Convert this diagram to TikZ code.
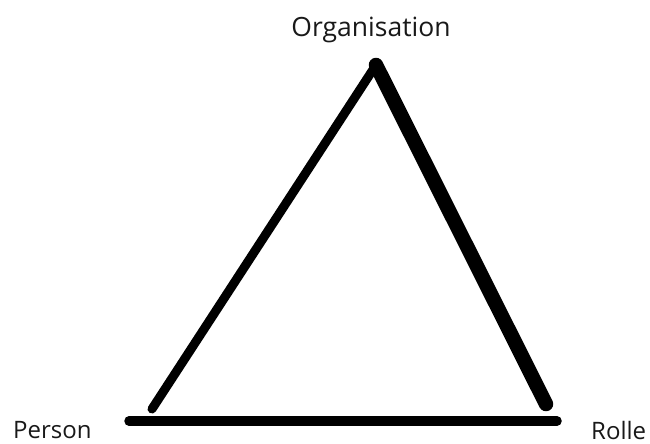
\documentclass[tikz,border=0pt]{standalone}
\usepackage{fontspec}
\setmainfont{Open Sans}
\begin{document}
\begin{tikzpicture}[x=1pt,y=-1pt,
  lbl/.style={inner sep=0pt, font=\fontsize{24}{28}\selectfont, text=black!90},
  stroke/.style={line cap=round, line join=round, draw=black}]
\useasboundingbox (0,0) rectangle (650,444);
\coordinate (apex) at (376,65);
\coordinate (bl) at (152,409);
\coordinate (br) at (546,404);
\coordinate (b1) at (129,421);
\coordinate (b2) at (557,421);
\draw[stroke, line width=9] (bl) -- (apex);
\draw[stroke, line width=14.5] (apex) -- (br);
\draw[stroke, line width=9.5] (b1) -- (b2);
\node[lbl, anchor=base, font=\fontsize{26.5}{30}\selectfont] (org) at (371,37) {Organisation};
\node[lbl, anchor=base west] (person) at (13,438) {Person};
\node[lbl, anchor=base west] (rolle) at (591,439) {Rolle};
\end{tikzpicture}
\end{document}
